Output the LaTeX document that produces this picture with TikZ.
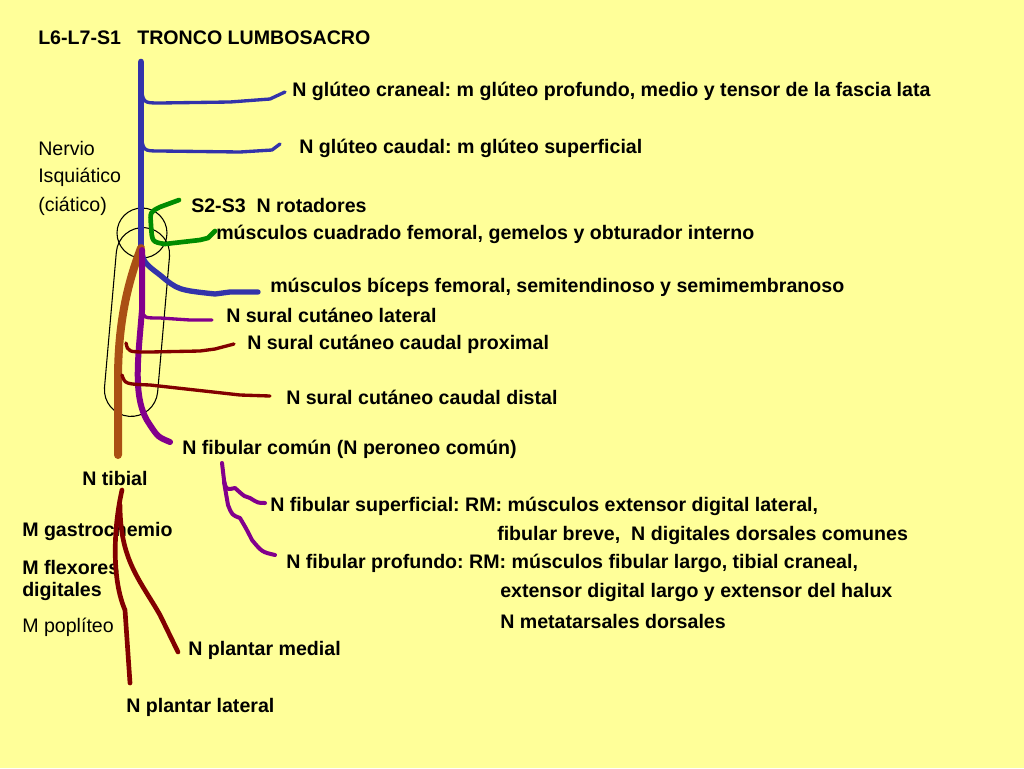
\documentclass[tikz,border=0pt]{standalone}
\usepackage{fontspec}
\setmainfont{Liberation Sans}
\frenchspacing
\begin{document}
\begin{tikzpicture}[x=0.75pt,y=-0.75pt,
 t/.style={anchor=west,inner sep=0pt,font=\fontsize{14.7pt}{16pt}\selectfont\bfseries},
 tr/.style={anchor=west,inner sep=0pt,font=\fontsize{14.7pt}{16pt}\selectfont},
 line cap=round,line join=round]
\definecolor{bg}{RGB}{255,255,153}
\definecolor{nblue}{RGB}{51,51,170}
\definecolor{ngreen}{RGB}{0,140,0}
\definecolor{nbrown}{RGB}{170,80,20}
\definecolor{npurple}{RGB}{130,0,140}
\definecolor{nred}{RGB}{130,0,0}
\fill[bg] (0,0) rectangle (1024,768);
\useasboundingbox (0,0) rectangle (1024,768);
% texts
\node[t] (t0) at (38,38) {L6-L7-S1\ \ \ TRONCO LUMBOSACRO};
\node[t] (t1) at (292,91) {N glúteo craneal: m glúteo profundo, medio y tensor de la fascia lata};
\node[tr] (n1) at (38,148) {Nervio};
\node[tr] (n2) at (38,177) {Isquiático};
\node[tr] (n3) at (38,206) {(ciático)};
\node[t] (t2) at (299,148) {N glúteo caudal: m glúteo superficial};
\node[t] (t3) at (191,206) {S2-S3\ \ N rotadores};
\node[t] (t4) at (216,234) {músculos cuadrado femoral, gemelos y obturador interno};
\node[t] (t5) at (270,287) {músculos bíceps femoral, semitendinoso y semimembranoso};
\node[t] (t6) at (226,315) {N sural cutáneo lateral};
\node[t] (t7) at (247,344) {N sural cutáneo caudal proximal};
\node[t] (t8) at (286,397) {N sural cutáneo caudal distal};
\node[t] (t9) at (182,449) {N fibular común (N peroneo común)};
\node[t] (t10) at (82,478) {N tibial};
\node[t] (t11) at (270,506) {N fibular superficial: RM: músculos extensor digital lateral,};
\node[t] (t12) at (497,535) {fibular breve,\ \ N digitales dorsales comunes};
\node[t] (t13) at (22,531) {M gastrocnemio};
\node[t] (t14) at (286,563) {N fibular profundo: RM: músculos fibular largo, tibial craneal,};
\node[t] (t15) at (22,567) {M flexores};
\node[t] (t16) at (22,591) {digitales};
\node[t] (t17) at (500,592) {extensor digital largo y extensor del halux};
\node[t] (t18) at (500,621) {N metatarsales dorsales};
\node[tr] (t19) at (22,627) {M poplíteo};
\node[t] (t20) at (188,650) {N plantar medial};
\node[t] (t21) at (126,707) {N plantar lateral};
% outlines
\draw[line width=0.8pt] (142,233) circle [radius=25];
\node[draw,line width=0.8pt,rounded corners=20pt,minimum width=40pt,minimum height=142pt,rotate=-5] (ov) at (137,322) {};
% blue
\draw[nblue,line width=5pt] (141,62) -- (141,245);
\draw[nblue,line width=4pt] (141,245) .. controls (143,262) .. (160,275) .. controls (178,290) .. (215,294) -- (230,292) -- (258,292);
\draw[nblue,line width=2.5pt] (141,85) .. controls (143,103) .. (160,103) -- (230,102) -- (270,99) -- (285,92);
\draw[nblue,line width=2.5pt] (141,133) .. controls (143,151) .. (160,151) -- (240,152) -- (272,150) -- (280,144);
% green
\draw[ngreen,line width=3.5pt] (179,200) -- (160,207) .. controls (150,212) .. (151,225) .. controls (152,242) .. (165,244) -- (200,240) -- (208,238) -- (215,231);
% brown tibial
\draw[nbrown,line width=6pt] (141,248) .. controls (125,290) and (118,330) .. (118,380) -- (118,455);
% purple
\draw[npurple,line width=4.5pt] (142,250) -- (142,310) .. controls (138,360) and (132,400) .. (150,425) .. controls (158,437) .. (170,442);
\draw[npurple,line width=2.5pt] (142,310) .. controls (144,318) .. (160,318) -- (190,320) -- (212,320);
% dark red sural
\draw[nred,line width=2.5pt] (126,343) .. controls (128,352) .. (150,352) -- (200,351) -- (215,349) -- (234,344);
\draw[nred,line width=2.5pt] (122,375) .. controls (125,384) .. (150,385) -- (240,395) -- (270,396);
% fibular branches
\draw[npurple,line width=3pt] (222,463) -- (224,480) .. controls (226,490) .. (235,488) .. controls (245,497) .. (250,498) .. controls (258,503) .. (265,503);
\draw[npurple,line width=3pt] (224,482) -- (228,505) .. controls (232,515) .. (240,518) .. controls (247,530) .. (252,540) .. controls (262,552) .. (275,555);
% tibial branches
\draw[nred,line width=3.5pt] (122,490) .. controls (113,530) and (112,580) .. (125,610) -- (130,683);
\draw[nred,line width=3.5pt] (120,505) .. controls (120,560) and (140,580) .. (160,615) -- (178,652);
\end{tikzpicture}
\end{document}
